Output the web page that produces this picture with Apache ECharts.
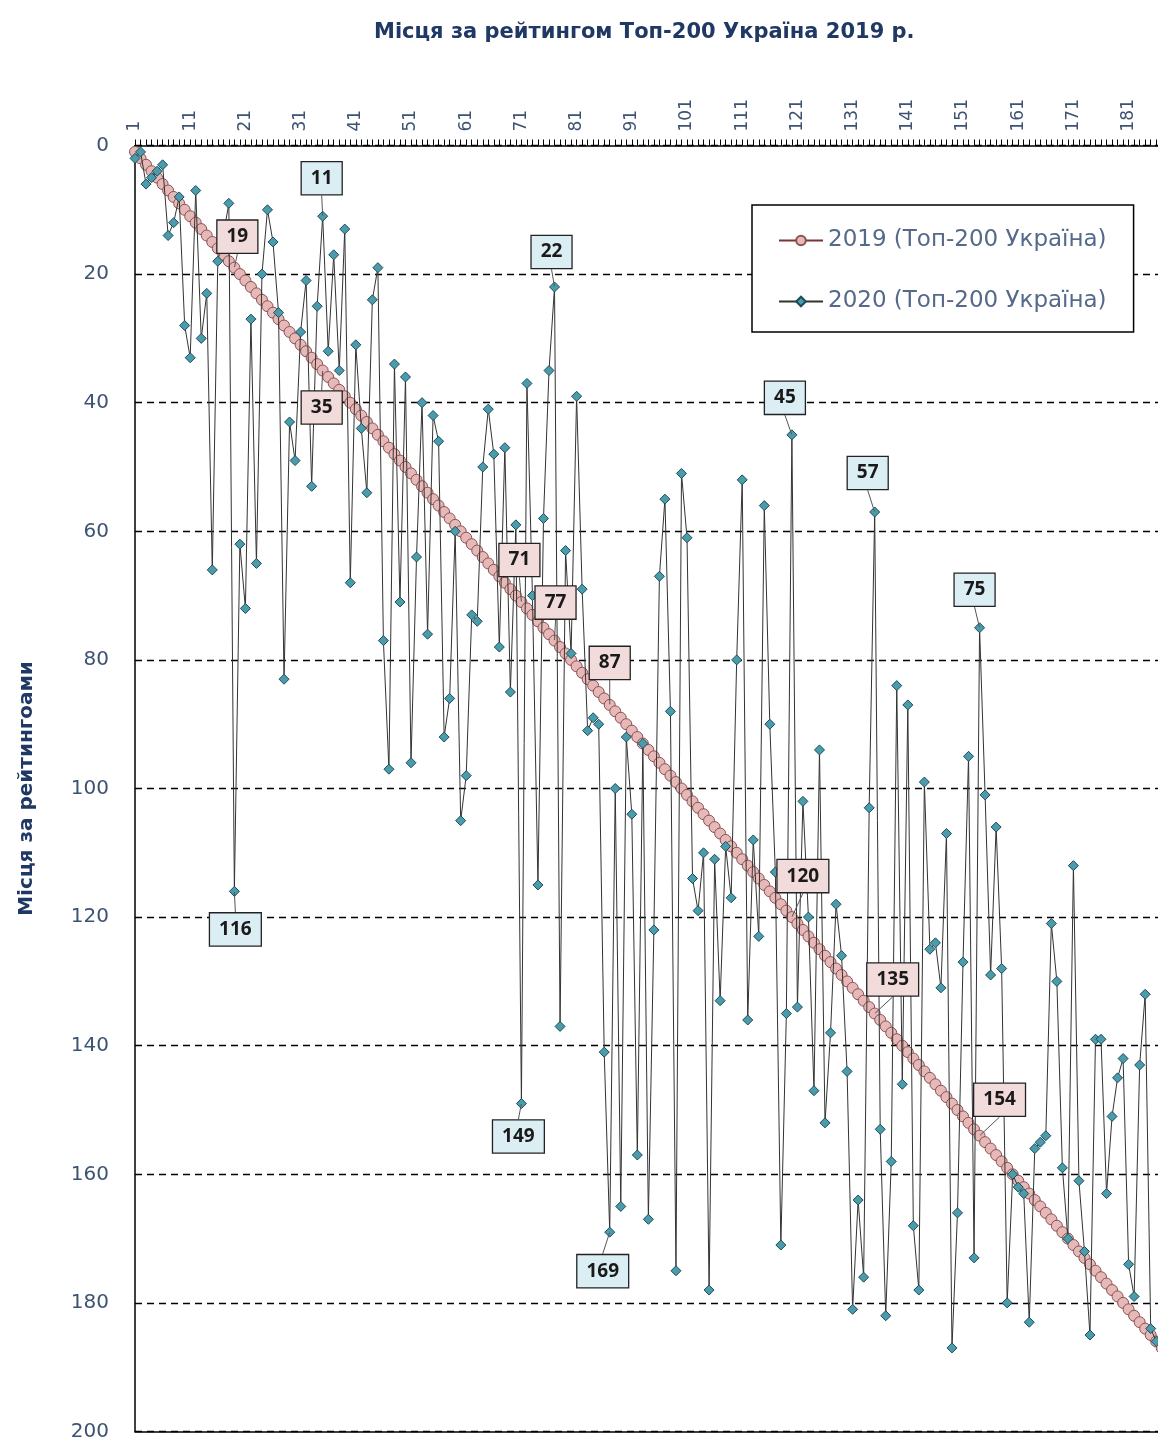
<!DOCTYPE html>
<html>
<head>
<meta charset="utf-8">
<title>Топ-200 Україна</title>
<script src="https://cdn.jsdelivr.net/npm/echarts@6/dist/echarts.min.js"></script>
<style>
    html, body { margin: 0; padding: 0; background: #fff; }
    #chart { width: 1158px; height: 1441px; }
</style>
</head>
<body>
<div id="chart"></div>
<script>
// місця 2019 (категорії осі X і значення першої серії)
var places2019 = [
    1, 2, 3, 4, 5, 6, 7, 8, 9, 10, 11, 12, 13, 14, 15, 16, 17, 18, 19, 20,
    21, 22, 23, 24, 25, 26, 27, 28, 29, 30, 31, 32, 33, 34, 35, 36, 37, 38, 39, 40,
    41, 42, 43, 44, 45, 46, 47, 48, 49, 50, 51, 52, 53, 54, 55, 56, 57, 58, 59, 60,
    61, 62, 63, 64, 65, 66, 67, 68, 69, 70, 71, 72, 73, 74, 75, 76, 77, 78, 79, 80,
    81, 82, 83, 84, 85, 86, 87, 88, 89, 90, 91, 92, 93, 94, 95, 96, 97, 98, 99, 100,
    101, 102, 103, 104, 105, 106, 107, 108, 109, 110, 111, 112, 113, 114, 115, 116, 117, 118, 119, 120,
    121, 122, 123, 124, 125, 126, 127, 128, 129, 130, 131, 132, 133, 134, 135, 136, 137, 138, 139, 140,
    141, 142, 143, 144, 145, 146, 147, 148, 149, 150, 151, 152, 153, 154, 155, 156, 157, 158, 159, 160,
    161, 162, 163, 164, 165, 166, 167, 168, 169, 170, 171, 172, 173, 174, 175, 176, 177, 178, 179, 180,
    181, 182, 183, 184, 185, 186, 187, 188, 189, 190, 191, 192, 193, 194, 195, 196, 197, 198, 199, 200
];

// місця тих самих закладів у 2020 (видима частина)
var places2020 = [
    2, 1, 6, 5, 4, 3, 14, 12, 8, 28, 33, 7, 30, 23, 66, 18, 14, 9, 116, 62,
    72, 27, 65, 20, 10, 15, 26, 83, 43, 49, 29, 21, 53, 25, 11, 32, 17, 35, 13, 68,
    31, 44, 54, 24, 19, 77, 97, 34, 71, 36, 96, 64, 40, 76, 42, 46, 92, 86, 60, 105,
    98, 73, 74, 50, 41, 48, 78, 47, 85, 59, 149, 37, 70, 115, 58, 35, 22, 137, 63, 79,
    39, 69, 91, 89, 90, 141, 169, 100, 165, 92, 104, 157, 93, 167, 122, 67, 55, 88, 175, 51,
    61, 114, 119, 110, 178, 111, 133, 109, 117, 80, 52, 136, 108, 123, 56, 90, 113, 171, 135, 45,
    134, 102, 120, 147, 94, 152, 138, 118, 126, 144, 181, 164, 176, 103, 57, 153, 182, 158, 84, 146,
    87, 168, 178, 99, 125, 124, 131, 107, 187, 166, 127, 95, 173, 75, 101, 129, 106, 128, 180, 160,
    162, 163, 183, 156, 155, 154, 121, 130, 159, 170, 112, 161, 172, 185, 139, 139, 163, 151, 145, 142,
    174, 179, 143, 132, 184, 186
];

// підписані заклади (місце 2019)
var labeledPlaces = [19, 35, 71, 77, 87, 120, 135, 154];

// зсув центру підпису від точки, px: [dx, dy]
var labelShift2019 = {
    19: [3, -31], 35: [-1, 37], 71: [-2, -42], 77: [1, -38],
    87: [0, -42], 120: [11, -41], 135: [18, -34], 154: [20, -36]
};
var labelShift2020 = {
    19: [1, 38], 35: [-1, -38], 71: [-3, 33], 77: [-3, -35],
    87: [-7, 39], 120: [-7, -37], 135: [-7, -39], 154: [-5, -38]
};

function labelPoints(values) {
    return labeledPlaces.map(function (place) {
        return [place - 1, values[place - 1]];
    });
}

function labelSeries(values, shift, bg) {
    return {
        type: 'scatter',
        xAxisIndex: 0,
        data: labelPoints(values),
        symbol: 'circle',
        symbolSize: 1,
        itemStyle: { color: 'rgba(0,0,0,0)', opacity: 1 },
        silent: true,
        z: 10,
        label: {
            show: true,
            position: 'inside',
            formatter: function (p) { return p.value[1]; },
            fontFamily: 'Open Sans',
            fontSize: 19,
            fontWeight: 'bold',
            color: '#1a1a1a',
            opacity: 1,
            backgroundColor: bg,
            borderColor: '#222',
            borderWidth: 1.3,
            padding: [6, 9, 4, 9],
            lineHeight: 22
        },
        labelLine: {
            show: true,
            lineStyle: { color: '#555', width: 1, opacity: 1 }
        },
        labelLayout: function (params) {
            var s = shift[labeledPlaces[params.dataIndex]];
            return { dx: s[0], dy: s[1] };
        }
    };
}

var myChart = echarts.init(document.getElementById('chart'));

option = {
    animation: false,
    backgroundColor: '#fff',
    title: {
        text: 'Місця за рейтингом Топ-200 Україна 2019 р.',
        left: 369,
        top: 17,
        textStyle: {
            fontFamily: 'DejaVu Sans',
            fontSize: 21,
            fontWeight: 'bold',
            color: '#1f3864'
        }
    },
    legend: {
        orient: 'vertical',
        left: 752,
        top: 205,
        padding: [24, 27, 19, 26],
        itemGap: 38,
        itemWidth: 44,
        itemHeight: 12,
        backgroundColor: '#fff',
        borderColor: '#000',
        borderWidth: 1.5,
        textStyle: {
            fontFamily: 'DejaVu Sans',
            fontSize: 23,
            color: '#55698a'
        },
        data: ['2019 (Топ-200 Україна)', '2020 (Топ-200 Україна)']
    },
    grid: {
        left: 135,
        top: 145.5,
        width: 1098.5,
        height: 1286,
        outerBoundsMode: 'none',
        containLabel: false
    },
    xAxis: [{
        type: 'category',
        position: 'top',
        data: places2019,
        boundaryGap: false,
        axisLine: { lineStyle: { color: '#000', width: 1.5 } },
        axisTick: { show: true, interval: 0, length: 6, lineStyle: { color: '#000' } },
        axisLabel: {
            interval: 9,
            rotate: 90,
            margin: 14,
            fontFamily: 'DejaVu Sans',
            fontSize: 17,
            color: '#3d5373'
        },
        splitLine: { show: false }
    }, {
        type: 'category',
        position: 'bottom',
        data: places2019,
        boundaryGap: false,
        axisLine: { show: true, lineStyle: { color: '#000', width: 1.5 } },
        axisTick: { show: false },
        axisLabel: { show: false }
    }],
    yAxis: {
        type: 'value',
        inverse: true,
        min: 0,
        max: 200,
        interval: 20,
        name: 'Місця за рейтингоами',
        nameLocation: 'middle',
        nameGap: 98,
        nameTextStyle: {
            fontFamily: 'DejaVu Sans',
            fontSize: 20,
            fontWeight: 'bold',
            color: '#1f3864'
        },
        axisLine: { show: true, lineStyle: { color: '#000', width: 1.5 } },
        axisTick: { show: false },
        axisLabel: {
            margin: 26,
            fontFamily: 'DejaVu Sans',
            fontSize: 20,
            color: '#3d5373'
        },
        splitLine: { lineStyle: { color: '#000', width: 1.3, type: [7, 5] } }
    },
    series: [{
        name: '2019 (Топ-200 Україна)',
        type: 'line',
        xAxisIndex: 0,
        data: places2019,
        symbol: 'circle',
        symbolSize: 11,
        showAllSymbol: true,
        lineStyle: { color: '#7a3434', width: 1.5 },
        itemStyle: { color: '#e6b9b8', borderColor: '#8b5252', borderWidth: 1 },
        z: 2
    }, {
        name: '2020 (Топ-200 Україна)',
        type: 'line',
        xAxisIndex: 0,
        data: places2020,
        symbol: 'diamond',
        symbolSize: 10,
        showAllSymbol: true,
        lineStyle: { color: '#333', width: 1 },
        itemStyle: { color: '#4a9cad', borderColor: '#1d4c57', borderWidth: 1 },
        z: 3
    },
    labelSeries(places2019, labelShift2019, '#f2dcdb'),
    labelSeries(places2020, labelShift2020, '#dbeef4')
    ]
};

myChart.setOption(option);
</script>
</body>
</html>
